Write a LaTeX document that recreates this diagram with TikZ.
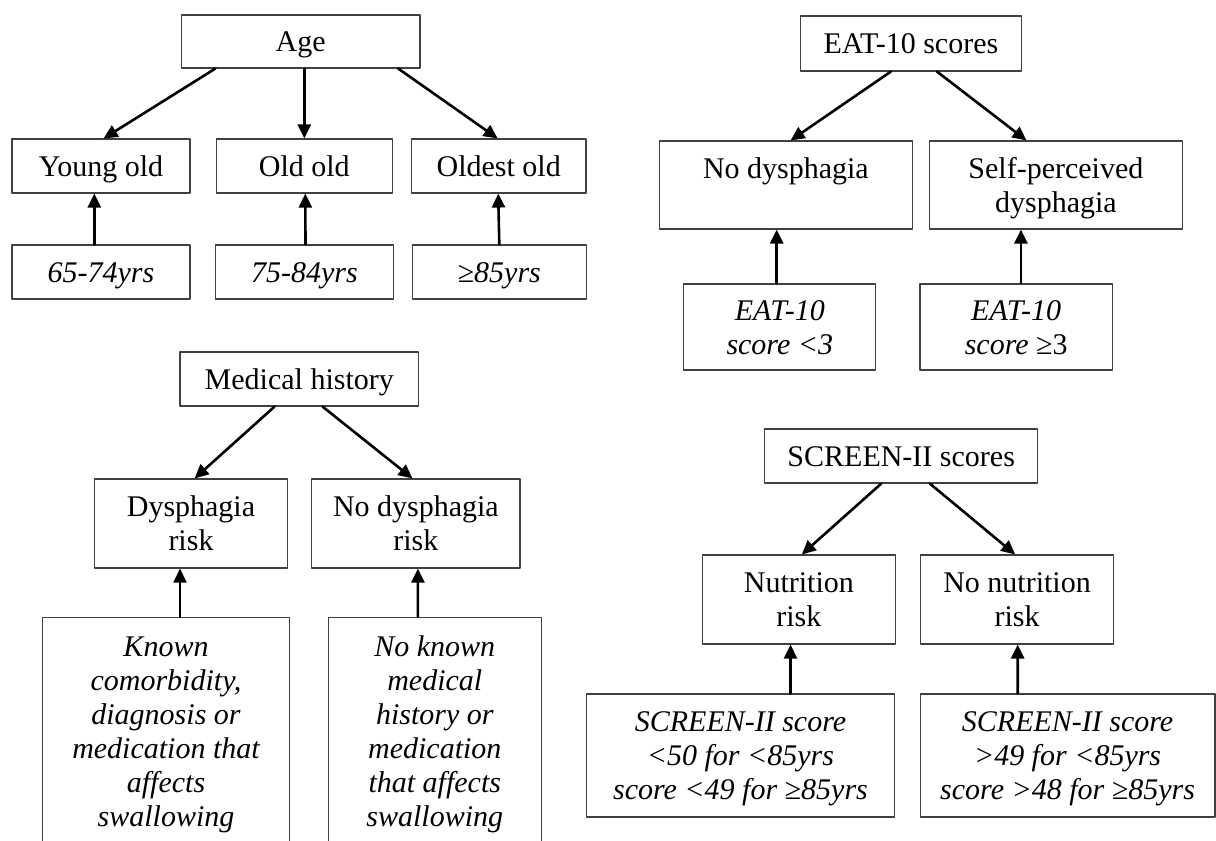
\documentclass[tikz,border=0pt]{standalone}
\usepackage{fontspec}
\setmainfont{Liberation Serif}
\usetikzlibrary{arrows.meta}
\definecolor{box_grey}{gray}{0.25}
\newcommand{\ws}{\rule[-6.5pt]{0pt}{33.2pt}}
\tikzset{
  box/.style={draw=box_grey, line width=1.1pt, align=center, inner sep=0pt,
    font=\fontsize{30}{34}\selectfont},
  crit/.style={box, font=\fontsize{30}{34}\selectfont\itshape},
  arr/.style={-{Triangle[length=14pt,width=13pt]}, line width=2.6pt},
}

\begin{document}
\begin{tikzpicture}[x=1pt,y=-1pt,line join=round,line cap=round]
\useasboundingbox (0,0) rectangle (1216,841);

% age
\node[box, minimum width=238.6pt, minimum height=53pt] (age) at (300.7,41.5) {\ws Age};
\node[box, minimum width=178pt, minimum height=54pt] (young) at (101,166) {\ws Young old};
\node[box, minimum width=175.7pt, minimum height=54pt] (oldold) at (304.3,166) {\ws Old old};
\node[box, minimum width=174.6pt, minimum height=54pt] (oldest) at (498.7,166) {\ws Oldest old};
\node[crit, minimum width=178pt, minimum height=54pt] (r1) at (101,272) {\ws 65-74yrs};
\node[crit, minimum width=177.5pt, minimum height=54pt] (r2) at (304.5,272) {\ws 75-84yrs};
\node[crit, minimum width=173.5pt, minimum height=54pt] (r3) at (499.3,272) {\ws ≥85yrs};

\draw[arr] ([xshift=-85.3pt]age.south) -- ([xshift=2.6pt]young.north);
\draw[arr] ([xshift=3.6pt]age.south) -- (oldold.north);
\draw[arr] ([xshift=97.5pt]age.south) -- ([xshift=-1pt]oldest.north);
\draw[arr] ([xshift=-6.7pt]r1.north) -- ([xshift=-6.7pt]young.south);
\draw[arr] ([xshift=1pt]r2.north) -- ([xshift=1pt]oldold.south);
\draw[arr] (r3.north) -- ([xshift=-0.5pt]oldest.south);

% eat-10
\node[box, minimum width=220.8pt, minimum height=55pt] (eat) at (910.9,43.5) {\ws EAT-10 scores};
\node[box, minimum width=252.7pt, minimum height=88pt] (nodys) at (785.9,185) {\ws No dysphagia\\\ws};
\node[box, minimum width=253.5pt, minimum height=88pt] (selfp) at (1055.9,185) {\ws Self-perceived\\dysphagia\ws};
\node[crit, minimum width=192.1pt, minimum height=86pt] (e1) at (779.8,327) {\ws EAT-10\\score <3\ws};
\node[crit, minimum width=192.5pt, minimum height=86pt] (e2) at (1016.2,327) {\ws EAT-10\\score {\upshape ≥3}\ws};

\draw[arr] ([xshift=-20pt]eat.south) -- ([xshift=4.7pt]nodys.north);
\draw[arr] ([xshift=26pt]eat.south) -- ([xshift=-29.4pt]selfp.north);
\draw[arr] ([xshift=-3.1pt]e1.north) -- ([xshift=-9.2pt]nodys.south);
\draw[arr] ([xshift=4.7pt]e2.north) -- ([xshift=-35pt]selfp.south);

% medical history
\node[box, minimum width=238.6pt, minimum height=54pt] (mh) at (299.3,379) {\ws Medical history};
\node[box, minimum width=193pt, minimum height=89pt] (dysr) at (191,523.5) {\ws Dysphagia\\risk\ws};
\node[box, minimum width=208.2pt, minimum height=89pt] (nodysr) at (415.9,523.5) {\ws No dysphagia\\risk\ws};
\node[crit, anchor=north, inner ysep=12.3pt, minimum width=247.1pt] (known) at (166,617)
  {\ws Known\\comorbidity,\\diagnosis or\\medication that\\affects\\swallowing\\\ws};
\node[crit, anchor=north, inner ysep=12.3pt, minimum width=213.2pt] (noknown) at (434.8,617)
  {\ws No known\\medical\\history or\\medication\\that affects\\swallowing\\\ws};

\draw[arr] ([xshift=-24.7pt]mh.south) -- ([xshift=3.6pt]dysr.north);
\draw[arr] ([xshift=23.2pt]mh.south) -- ([xshift=-3.4pt]nodysr.north);
\draw[arr] ([xshift=14pt]known.north) -- ([xshift=-11pt]dysr.south);
\draw[arr] ([xshift=-16.9pt]noknown.north) -- ([xshift=2pt]nodysr.south);

% screen-ii
\node[box, minimum width=273.2pt, minimum height=54pt] (scr) at (901.2,456) {\ws SCREEN-II scores};
\node[box, minimum width=192.4pt, minimum height=89pt] (nutr) at (798.9,599.5) {\ws Nutrition\\risk\ws};
\node[box, minimum width=192.9pt, minimum height=89pt] (nonutr) at (1017,599.5) {\ws No nutrition\\risk\ws};
\node[crit, minimum width=308.3pt, minimum height=123pt] (s1) at (740.5,755.5)
  {\ws SCREEN-II score\\<50 for <85yrs\\score <49 for ≥85yrs\ws};
\node[crit, minimum width=294.8pt, minimum height=123pt] (s2) at (1067.6,755.5)
  {\ws SCREEN-II score\\>49 for <85yrs\\score >48 for ≥85yrs\ws};

\draw[arr] ([xshift=-19.9pt]scr.south) -- ([xshift=2.9pt]nutr.north);
\draw[arr] ([xshift=28.6pt]scr.south) -- ([xshift=-1.8pt]nonutr.north);
\draw[arr] ([xshift=50pt]s1.north) -- ([xshift=-8.4pt]nutr.south);
\draw[arr] ([xshift=-49.9pt]s2.north) -- ([xshift=0.7pt]nonutr.south);
\end{tikzpicture}
\end{document}
